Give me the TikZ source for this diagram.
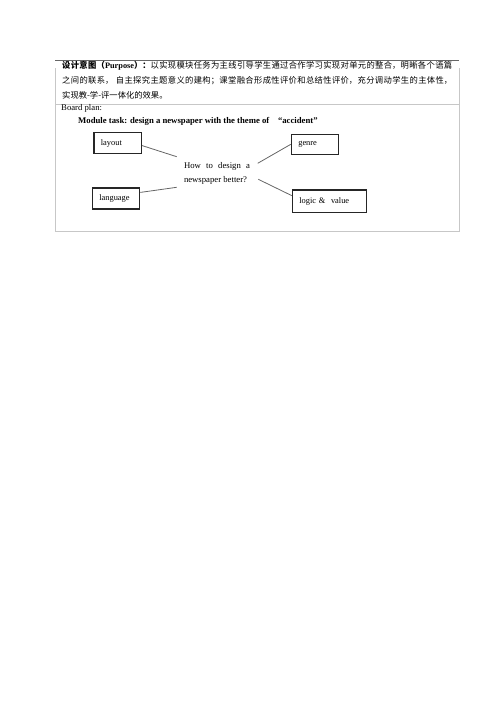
\documentclass[tikz,border=0pt]{standalone}
\usepackage{fontspec}
\setmainfont{Liberation Serif}
\newfontfamily\cjk{Noto Sans CJK SC}
\newcommand\zhs[1]{{\cjk #1}}
\begin{document}
\begin{tikzpicture}[x=1pt,y=-1pt,
  bx/.style={draw=black!85, line width=1.2pt, inner xsep=7pt, inner ysep=0pt, align=left, anchor=north west, font=\fontsize{8.4}{10}\selectfont},
  conn/.style={draw=black!60, line width=0.8pt},
  rule/.style={draw=black!22, line width=0.8pt},
  txt/.style={inner sep=0pt, anchor=west}]
\useasboundingbox (0,0) rectangle (500,707);
% table
\draw[draw=black!60, line width=1pt] (55,60) -- (459,60);
\draw[rule] (55,68) -- (55,231) -- (459,231) -- (459,68);
\draw[rule] (55,104) -- (459,104);
% purpose text
\node[inner sep=0pt, anchor=north west, text width=390pt, align=justify,
      font=\fontsize{8.3}{15}\selectfont] (purpose) at (62,61.5)
 {\XeTeXlinebreaklocale "zh"\XeTeXlinebreakskip=0pt plus 1pt
  {\bfseries\zhs{设计意图（}Purpose\zhs{）：}}\zhs{以实现模块任务为主线引导学生通过合作学习实现对单元的整合，明晰各个语篇}\linebreak
  \zhs{之间的联系，} \zhs{自主探究主题意义的建构；课堂融合形成性评价和总结性评价，充分调动学生的主体性，}\linebreak
  \zhs{实现教-学-评一体化的效果。}};
% board plan
\node[txt, font=\fontsize{8.7}{10}\selectfont] (board) at (61,108.5) {Board plan:};
\node[txt, font=\bfseries\fontsize{8.7}{10}\selectfont] (task) at (78,121.5) {Module task: design a newspaper with the theme of\quad “accident”};
% boxes
\node[bx, minimum height=21.5pt, text width=33.5pt] (layout) at (93.3,131.7) {layout};
\node[bx, minimum height=19.5pt, text width=33.5pt] (genre) at (290.7,134) {genre};
\node[bx, minimum height=21pt, text width=33.5pt] (language) at (91.7,187.3) {language};
\node[bx, minimum height=22.4pt, text width=60pt] (logic) at (291.7,189.3) {logic \& \ value};
% centre question
\node[inner sep=0pt, text width=66pt, align=justify, font=\fontsize{8.7}{14}\selectfont] (q) at (217,173)
 {How to design a\linebreak newspaper better?};
% connector ends near the question
\coordinate (c1) at (176.7,156.7);
\coordinate (c2) at (257.7,163.3);
\coordinate (c3) at (176.7,187.3);
\coordinate (c4) at (258.3,179.3);
\draw[conn] ([yshift=-2.5pt]layout.east) -- (c1);
\draw[conn] (c2) -- (genre.west);
\draw[conn] ([yshift=6pt]language.east) -- (c3);
\draw[conn] (c4) -- ([yshift=5.5pt]logic.west);
\end{tikzpicture}
\end{document}
